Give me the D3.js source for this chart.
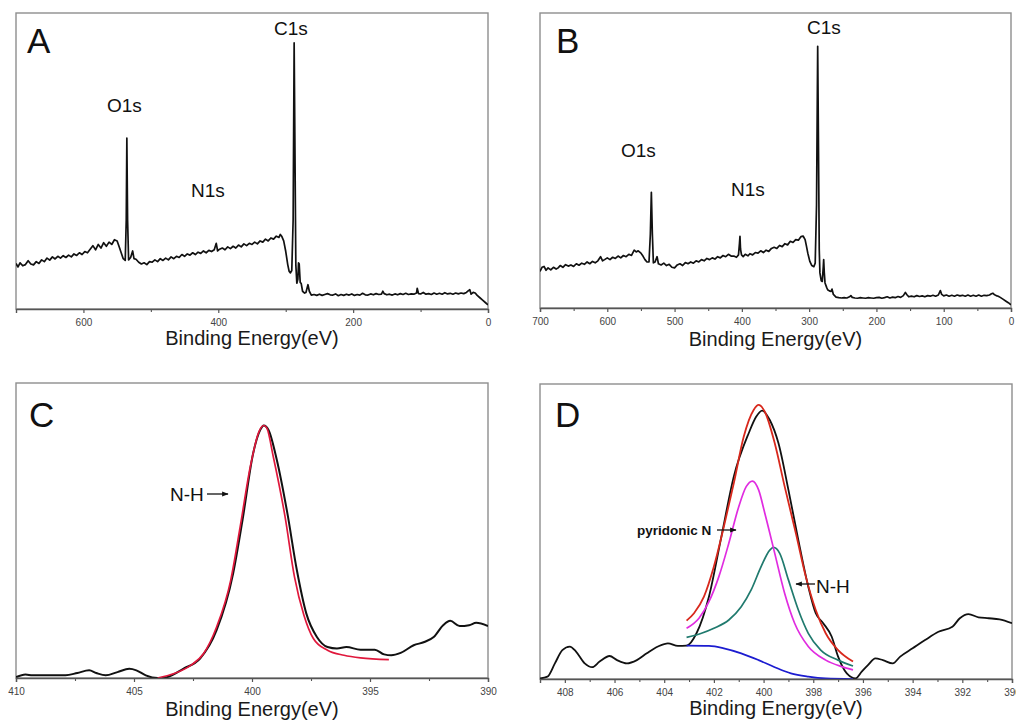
<!DOCTYPE html>
<html><head><meta charset="utf-8">
<script src="https://cdn.jsdelivr.net/npm/d3@7"></script>
<style>
body{margin:0;background:#fff}
svg{display:block}
text{font-family:Arial,"Liberation Sans",Helvetica,sans-serif}
</style>
</head><body>
<svg id="chart" width="1016" height="722"></svg>
<script>
// ---------- DATA (binding energy eV, relative intensity 0-100) ----------
const surveyA = [[700,15.4],[697,14.2],[694,15.6],[690,14.6],[686,15.0],[682,16.3],[678,15.2],[674,14.9],[670,16.0],[666,15.4],[662,16.6],[658,16.0],[654,17.2],[650,16.5],[646,17.6],[642,16.9],[638,17.8],[634,17.2],[630,18.0],[626,17.4],[622,18.2],[618,17.6],[614,18.6],[610,18.1],[606,19.0],[602,18.4],[598,19.4],[594,19.0],[590,20.2],[586,21.4],[582,20.0],[578,21.8],[574,20.6],[570,22.4],[566,21.2],[562,22.6],[558,21.8],[554,23.4],[550,23.0],[547,21.0],[544,19.0],[541,17.0],[538,16.4],[536.5,30],[535.6,57.7],[534.5,30],[533,16.6],[530,17.4],[527,19.6],[525,17.0],[522,16.8],[518,15.8],[514,15.2],[510,15.6],[506,15.0],[502,16.0],[498,15.8],[494,16.6],[490,16.0],[486,17.0],[482,16.4],[478,17.2],[474,16.6],[470,17.6],[466,17.0],[462,17.8],[458,17.4],[454,18.4],[450,17.8],[446,18.6],[442,18.2],[438,19.0],[434,18.4],[430,19.2],[426,18.8],[422,19.6],[418,19.0],[414,19.8],[410,19.4],[406,20.0],[403,22.2],[401,19.6],[398,20.2],[394,20.6],[390,20.0],[386,21.0],[382,20.4],[378,21.2],[374,20.6],[370,21.6],[366,21.0],[362,22.0],[358,21.4],[354,22.2],[350,21.8],[346,22.6],[342,22.0],[338,23.0],[334,22.6],[330,23.6],[326,23.0],[322,24.0],[318,23.6],[314,24.6],[310,24.2],[308,25.2],[306,24.6],[303,23.0],[300,19.5],[297,15.0],[295,12.8],[293,12.2],[291,13.0],[289,30],[287.5,89.9],[286.5,60],[285,15],[283.5,8.7],[282,10],[281,15.6],[280,15.2],[278.5,9.0],[277,8.6],[275,6.0],[272,5.4],[270,5.6],[267,8.2],[265,6.0],[262,4.7],[258,4.9],[254,4.6],[250,5.0],[246,4.6],[242,4.9],[238,5.2],[234,4.8],[230,4.7],[226,5.1],[222,4.5],[218,4.9],[214,4.6],[210,5.0],[206,4.7],[202,5.1],[198,4.6],[194,4.9],[190,4.7],[186,5.3],[182,4.8],[178,4.7],[174,5.1],[170,4.8],[166,5.2],[162,4.9],[158,5.0],[156,6.0],[154,5.2],[150,4.8],[146,5.0],[142,4.7],[138,5.1],[134,4.8],[130,5.2],[126,4.9],[122,5.3],[118,4.9],[114,5.1],[110,5.0],[106,5.4],[105,7.0],[103,5.2],[100,5.1],[96,5.6],[92,5.0],[88,5.2],[84,4.9],[80,5.4],[76,5.0],[72,5.3],[68,5.0],[64,5.5],[60,5.1],[56,5.3],[52,5.0],[48,5.4],[44,5.1],[40,5.4],[36,5.2],[32,5.6],[29,6.2],[27,6.5],[25,5.0],[22,5.6],[19,5.4],[16,4.6],[12,3.8],[8,3.0],[4,2.2],[0,1.4]];

const surveyB = [[700,12.4],[697,13.8],[694,14.1],[691,12.8],[688,13.6],[684,12.9],[680,13.8],[676,13.2],[673,13.6],[670,14.4],[666,13.8],[662,14.7],[658,14.2],[654,14.6],[650,14.1],[646,15.0],[642,14.5],[638,15.2],[634,14.8],[630,15.6],[626,15.0],[622,15.8],[618,15.3],[614,16.0],[610,17.4],[607,16.0],[604,16.4],[600,17.0],[596,16.4],[592,17.2],[588,16.8],[584,17.6],[580,17.0],[576,17.8],[572,17.4],[568,18.2],[564,17.8],[560,19.6],[557,19.0],[554,19.4],[550,18.6],[547,17.6],[544,16.4],[541,15.6],[538,15.6],[536,25],[534.5,39.2],[533,25],[531.5,15.3],[529,15.6],[526,17.4],[524,15.0],[520,14.6],[516,15.2],[512,14.4],[508,14.8],[504,13.8],[500,13.6],[496,14.6],[492,15.0],[488,14.4],[484,15.4],[480,15.0],[476,15.6],[472,15.2],[468,16.0],[464,15.6],[460,16.4],[456,16.0],[452,16.8],[448,16.4],[444,17.0],[440,16.6],[436,17.4],[432,17.0],[428,17.8],[424,17.4],[420,18.2],[416,17.6],[412,17.6],[408,17.2],[405,18.0],[403.5,22],[402.8,24.3],[402,20],[400.5,18.0],[398,17.4],[395,18.2],[391,17.7],[388,18.4],[384,18.0],[380,18.8],[376,18.6],[372,19.4],[368,18.8],[364,19.6],[360,19.2],[356,20.2],[352,20.6],[348,20.2],[344,21.2],[340,20.8],[336,21.8],[332,21.4],[328,22.6],[324,22.2],[320,23.2],[316,23.0],[312,24.2],[309,24.4],[306,23.2],[304,21.0],[302,18.6],[299,15.8],[296,14.4],[293,14.0],[291,15.2],[289,35],[287.3,88.7],[286.3,60],[285,20],[284,11.9],[282,9.2],[280.5,9.0],[279,14],[278.4,16.4],[277.5,12],[276.4,8.5],[274,7.0],[272.5,6.2],[270,5.8],[267.5,5.6],[266,6.4],[264,4.6],[260,3.7],[256,3.5],[252,3.4],[248,3.5],[244,3.4],[240,3.8],[238,4.2],[236,3.6],[232,3.4],[228,3.3],[224,3.5],[220,3.4],[216,3.3],[212,3.5],[208,3.4],[204,3.3],[200,3.5],[196,3.6],[192,3.3],[188,3.5],[184,3.8],[180,3.4],[176,3.7],[172,3.5],[168,3.9],[164,3.6],[160,4.2],[157,5.3],[155,4.6],[152,3.8],[148,4.0],[144,3.8],[140,4.2],[136,3.9],[132,4.1],[128,3.8],[124,4.2],[120,4.0],[116,4.3],[112,4.0],[108,4.4],[105,5.9],[103,4.6],[100,4.1],[96,4.4],[92,4.0],[88,4.3],[84,4.0],[80,4.4],[76,4.1],[72,4.3],[68,4.0],[64,4.4],[60,4.0],[56,4.3],[52,4.0],[48,4.4],[44,4.0],[40,4.3],[36,4.2],[32,4.4],[29,4.8],[27,5.0],[25,4.6],[22,4.2],[19,4.0],[16,3.6],[12,3.0],[8,2.4],[4,1.8],[0,1.1]];

const nC_raw = [[410,0.3],[409.6,1.2],[409.3,0.9],[408.6,0.9],[407.9,0.9],[407.4,1.7],[406.9,2.6],[406.6,1.7],[406.2,0.9],[405.7,2.0],[405.2,3.1],[404.9,2.6],[404.5,0.9],[404.0,0],[403.6,0.3],[402.9,3.2],[402.2,6.6],[401.5,16.2],[400.8,35.4],[400.4,53.6],[399.95,76.2],[399.65,84.1],[399.5,85.6],[399.3,84.1],[398.95,74.0],[398.5,55.8],[398.1,36.6],[397.7,21.9],[397.25,13.9],[396.8,10.5],[396.4,10.0],[396.0,10.5],[395.4,9.6],[394.8,9.6],[394.4,8.0],[394.1,7.7],[393.7,8.5],[393.15,11.1],[392.7,12.2],[392.3,13.9],[391.9,17.9],[391.6,19.4],[391.2,17.6],[390.8,17.9],[390.5,18.7],[390.0,17.6]];
const nC_fit = [[404.0,0],[403.3,1.5],[402.6,4.3],[402.05,8.3],[401.5,17.3],[400.9,33.2],[400.5,51.3],[400.07,71.7],[399.7,83.6],[399.5,85.6],[399.37,84.7],[399.1,75.1],[398.6,54.7],[398.2,34.3],[397.8,21.3],[397.4,13.4],[396.8,9.4],[396.1,7.7],[395.4,6.8],[394.2,6.2]];

const nD_raw = [[409,0.2],[408.7,0.8],[408.4,5.3],[408.1,9.8],[407.8,11.0],[407.55,9.3],[407.2,5.3],[406.9,4.0],[406.6,5.9],[406.2,7.8],[405.9,6.4],[405.5,5.3],[405.1,6.4],[404.7,8.7],[404.25,11.0],[403.85,12.1],[403.45,11.2],[403.1,11.3],[402.7,15.5],[402.2,27.9],[401.7,48.2],[401.2,68.6],[400.6,83.3],[400.3,88.9],[400.06,91.0],[399.75,87.8],[399.4,79.9],[399.0,64.1],[398.6,47.1],[398.2,31.3],[397.9,22.3],[397.6,18.9],[397.26,14.4],[397.0,7.6],[396.65,1.9],[396.3,0.2],[396.05,2.5],[395.8,4.7],[395.5,7.0],[395.2,6.4],[394.8,5.3],[394.5,7.6],[394.0,10.4],[393.5,13.2],[392.96,16.0],[392.4,17.7],[392.1,20.6],[391.75,22.0],[391.35,20.9],[390.94,20.6],[390.5,20.2],[390.0,18.9]];
const nD_envelope = [[403.1,19.8],[402.8,22.3],[402.4,27.9],[402.0,38.1],[401.6,51.6],[401.2,66.3],[400.8,82.1],[400.4,91.2],[400.2,92.9],[399.95,90.6],[399.55,79.9],[399.15,65.2],[398.7,49.4],[398.3,34.7],[397.9,23.4],[397.5,15.5],[397.0,9.8],[396.4,5.9]];
const nD_pyridonic = [[403.1,17.2],[402.6,20.6],[402.2,26.2],[401.8,34.7],[401.4,46.0],[401.0,58.4],[400.7,65.2],[400.45,67.1],[400.2,64.1],[399.95,56.2],[399.55,42.6],[399.15,29.0],[398.75,18.9],[398.2,11.0],[397.5,6.4],[396.85,4.2],[396.4,3.1]];
const nD_NH = [[403.1,14.1],[402.5,15.5],[402.0,17.2],[401.4,20.0],[400.9,24.5],[400.5,30.2],[400.1,38.1],[399.75,43.7],[399.6,44.6],[399.35,42.6],[399.0,33.6],[398.6,23.4],[398.2,15.5],[397.7,9.8],[397.0,6.4],[396.4,4.4]];
const nD_background = [[403.1,11.3],[402.2,11.2],[401.6,10.4],[400.9,8.7],[400.2,6.4],[399.55,4.0],[398.9,1.9],[398.2,0.8],[397.5,0.2],[396.4,0]];

const ticksSurveyA = [600,400,200,0];
const minorSurveyA = [500,300,100];
const ticksSurveyB = [700,600,500,400,300,200,100,0];
const minorSurveyB = [650,550,450,350,250,150,50];
const ticksC = [410,405,400,395,390];
const minorC = [407.5,402.5,397.5,392.5];
const ticksD = [408,406,404,402,400,398,396,394,392,390];
const minorD = [407,405,403,401,399,397,395,393,391];

const xTitle = "Binding Energy(eV)";

// ---------- LAYOUT ----------
const panels = [
  {letter:"A", box:{x0:16,x1:488,y0:13,y1:309}, xDomain:[700,0], ticks:ticksSurveyA, minor:minorSurveyA, fmt:d3.format("d"),
   letterPos:[27,53], titleY:345,
   series:[{data:surveyA,color:"#111",w:1.7,curve:d3.curveLinear}],
   labels:[{t:"C1s",x:274,y:35},{t:"O1s",x:107,y:112},{t:"N1s",x:191,y:197}]},
  {letter:"B", box:{x0:540,x1:1011,y0:13,y1:308}, xDomain:[700,0], ticks:ticksSurveyB, minor:minorSurveyB, fmt:d3.format("d"),
   letterPos:[556,53], titleY:346,
   series:[{data:surveyB,color:"#111",w:1.7,curve:d3.curveLinear}],
   labels:[{t:"C1s",x:807,y:34},{t:"O1s",x:621,y:157},{t:"N1s",x:731,y:196}]},
  {letter:"C", box:{x0:16,x1:488,y0:383,y1:678}, xDomain:[410,390], ticks:ticksC, minor:minorC, fmt:d3.format("d"),
   letterPos:[29,427], titleY:716,
   series:[{data:nC_raw,color:"#111",w:2,curve:d3.curveMonotoneX},
           {data:nC_fit,color:"#e0183c",w:1.7,curve:d3.curveMonotoneX}],
   labels:[{t:"N-H",x:170,y:501}],
   arrows:[{x1:207,y1:494,x2:228,y2:494}]},
  {letter:"D", box:{x0:540,x1:1012,y0:384,y1:679}, xDomain:[409,390], ticks:ticksD, minor:minorD, fmt:d3.format("d"),
   letterPos:[555,427], titleY:715,
   series:[{data:nD_raw,color:"#111",w:1.8,curve:d3.curveMonotoneX},
           {data:nD_background,color:"#1c1cd0",w:1.7,curve:d3.curveMonotoneX},
           {data:nD_NH,color:"#207a6e",w:1.7,curve:d3.curveMonotoneX},
           {data:nD_pyridonic,color:"#e02ce0",w:1.7,curve:d3.curveMonotoneX},
           {data:nD_envelope,color:"#d8281c",w:1.8,curve:d3.curveMonotoneX}],
   labels:[{t:"pyridonic N",x:637,y:535,size:13.5,weight:"bold"},{t:"N-H",x:816,y:593}],
   arrows:[{x1:717,y1:530,x2:736,y2:530},{x1:815,y1:584,x2:796,y2:584}]}
];

const svg = d3.select("#chart");
svg.append("rect").attr("width",1016).attr("height",722).attr("fill","#fff");
const defs = svg.append("defs");
defs.append("marker").attr("id","arr").attr("viewBox","0 0 10 10").attr("refX",9).attr("refY",5)
  .attr("markerWidth",5).attr("markerHeight",5).attr("orient","auto")
  .append("path").attr("d","M0,1L10,5L0,9z").attr("fill","#111");

panels.forEach(p => {
  const b = p.box;
  const x = d3.scaleLinear().domain(p.xDomain).range([b.x0,b.x1]);
  const y = d3.scaleLinear().domain([0,100]).range([b.y1,b.y0]);
  const g = svg.append("g");

  // frame
  g.append("rect").attr("x",b.x0).attr("y",b.y0).attr("width",b.x1-b.x0).attr("height",b.y1-b.y0)
    .attr("fill","none").attr("stroke","#8e8e8e").attr("stroke-width",1.4);

  // clip
  const cid = "clip"+p.letter;
  defs.append("clipPath").attr("id",cid).append("rect")
    .attr("x",b.x0).attr("y",b.y0-2).attr("width",b.x1-b.x0).attr("height",b.y1-b.y0+2);

  // series
  const gl = g.append("g").attr("clip-path",`url(#${cid})`);
  p.series.forEach(s => {
    const line = d3.line().x(d=>x(d[0])).y(d=>y(d[1])).curve(s.curve);
    gl.append("path").datum(s.data).attr("d",line).attr("fill","none")
      .attr("stroke",s.color).attr("stroke-width",s.w).attr("stroke-linejoin","round");
  });

  // axes
  const ax = g.append("g").attr("transform",`translate(0,${b.y1})`)
    .call(d3.axisBottom(x).tickValues(p.ticks).tickFormat(p.fmt).tickSize(4).tickPadding(6));
  ax.select(".domain").attr("stroke","#555").attr("stroke-width",1.4);
  ax.selectAll(".tick line").attr("stroke","#555").attr("stroke-width",1.2);
  ax.selectAll(".tick text").attr("font-size",10).attr("fill","#444")
    .attr("font-family","Arial, 'Liberation Sans', sans-serif");
  const axm = g.append("g").attr("transform",`translate(0,${b.y1})`)
    .call(d3.axisBottom(x).tickValues(p.minor).tickFormat("").tickSize(3));
  axm.select(".domain").remove();
  axm.selectAll(".tick line").attr("stroke","#555").attr("stroke-width",1.1);

  // axis title
  g.append("text").attr("x",(b.x0+b.x1)/2).attr("y",p.titleY).attr("text-anchor","middle")
    .attr("font-size",20).attr("fill","#1a1a1a").text(xTitle);

  // panel letter
  g.append("text").attr("x",p.letterPos[0]).attr("y",p.letterPos[1])
    .attr("font-size",35).attr("fill","#111").text(p.letter);

  // labels
  p.labels.forEach(l => {
    g.append("text").attr("x",l.x).attr("y",l.y).attr("font-size",l.size||19)
      .attr("font-weight",l.weight||"normal").attr("fill","#111").text(l.t);
  });
  (p.arrows||[]).forEach(a => {
    g.append("line").attr("x1",a.x1).attr("y1",a.y1).attr("x2",a.x2).attr("y2",a.y2)
      .attr("stroke","#111").attr("stroke-width",1.3).attr("marker-end","url(#arr)");
  });
});
</script>
</body></html>
